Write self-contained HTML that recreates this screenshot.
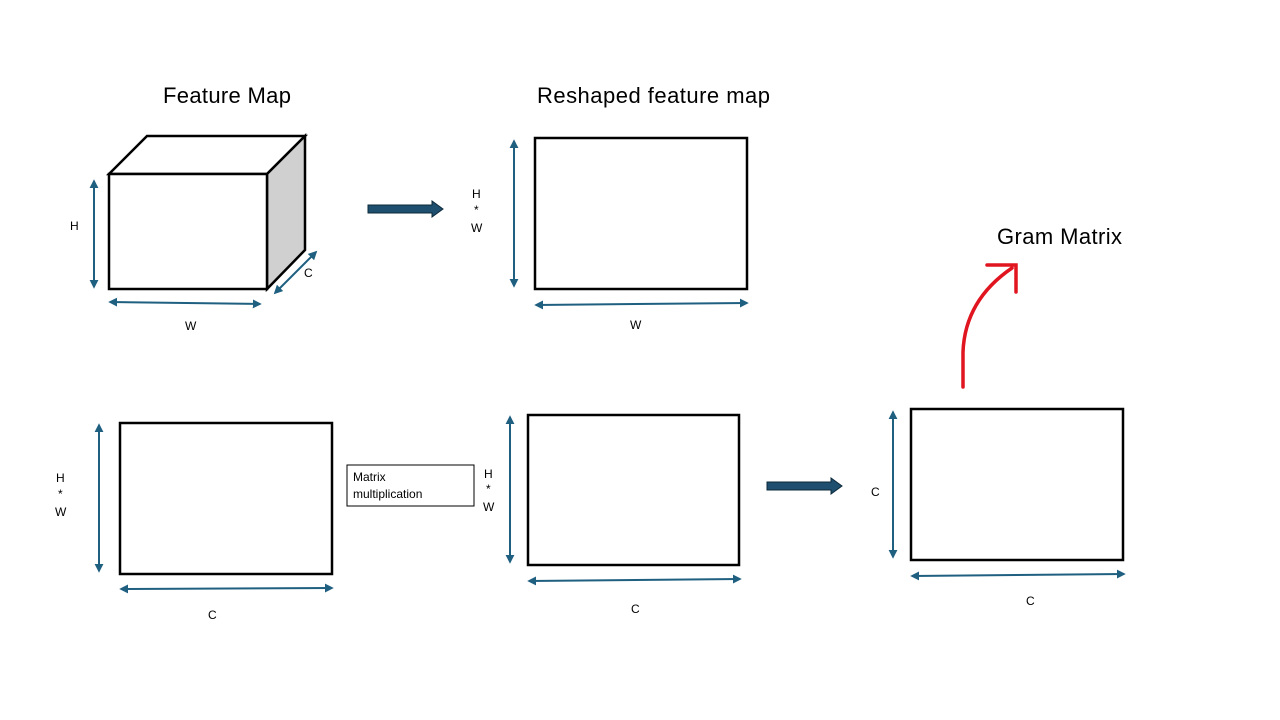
<!DOCTYPE html>
<html><head><meta charset="utf-8"><style>
html,body{margin:0;padding:0;background:#fff;}
svg{display:block;font-family:"Liberation Sans",sans-serif;}
</style></head><body>
<svg width="1280" height="720" viewBox="0 0 1280 720">
<defs>
<marker id="ah" viewBox="0 0 10 10" refX="8" refY="5" markerWidth="4.5" markerHeight="4.5" orient="auto-start-reverse"><path d="M0,0 L10,5 L0,10 z" fill="#1f5f80"/></marker>
</defs>
<g fill="#000" font-size="22" textLength="">
<text x="163" y="103" textLength="128">Feature Map</text>
<text x="537" y="103" textLength="233">Reshaped feature map</text>
<text x="997" y="244" textLength="125">Gram Matrix</text>
</g>
<g stroke="#000" stroke-width="2.5" stroke-linejoin="miter">
<polygon points="109,174 147,136 305,136 267,174" fill="#fff"/>
<polygon points="267,174 305,136 305,250 267,289" fill="#d0d0d0"/>
<rect x="109" y="174" width="158" height="115" fill="#fff"/>
</g>
<g stroke="#1f5f80" stroke-width="2" fill="none">
<line x1="94" y1="181" x2="94" y2="287" marker-start="url(#ah)" marker-end="url(#ah)"/>
<line x1="110" y1="302" x2="260" y2="304" marker-start="url(#ah)" marker-end="url(#ah)"/>
<line x1="275" y1="293" x2="316" y2="252" marker-start="url(#ah)" marker-end="url(#ah)"/>
<line x1="514" y1="141" x2="514" y2="286" marker-start="url(#ah)" marker-end="url(#ah)"/>
<line x1="536" y1="305" x2="747" y2="303" marker-start="url(#ah)" marker-end="url(#ah)"/>
<line x1="99" y1="425" x2="99" y2="571" marker-start="url(#ah)" marker-end="url(#ah)"/>
<line x1="121" y1="589" x2="332" y2="588" marker-start="url(#ah)" marker-end="url(#ah)"/>
<line x1="510" y1="417" x2="510" y2="562" marker-start="url(#ah)" marker-end="url(#ah)"/>
<line x1="529" y1="581" x2="740" y2="579" marker-start="url(#ah)" marker-end="url(#ah)"/>
<line x1="893" y1="412" x2="893" y2="557" marker-start="url(#ah)" marker-end="url(#ah)"/>
<line x1="912" y1="576" x2="1124" y2="574" marker-start="url(#ah)" marker-end="url(#ah)"/>
</g>
<g fill="#fff" stroke="#000" stroke-width="2.5">
<rect x="535" y="138" width="212" height="151"/>
<rect x="120" y="423" width="212" height="151"/>
<rect x="528" y="415" width="211" height="150"/>
<rect x="911" y="409" width="212" height="151"/>
</g>
<g fill="#1f4f6e" stroke="#0e2a3a" stroke-width="1">
<path d="M368,205 L432,205 L432,201 L443,209 L432,217 L432,213 L368,213 Z"/>
<path d="M767,482 L831,482 L831,478 L842,486 L831,494 L831,490 L767,490 Z"/>
</g>
<path d="M963,387 L963,352 Q965,300 1012,268 M987,265 L1016,265 L1016,292" fill="none" stroke="#e0151f" stroke-width="3.5" stroke-linecap="round"/>
<rect x="347" y="465" width="127" height="41" fill="#fff" stroke="#000" stroke-width="1"/>
<g font-size="12" fill="#000">
<text x="353" y="481">Matrix</text>
<text x="353" y="498">multiplication</text>
<text x="70" y="230">H</text>
<text x="185" y="330">W</text>
<text x="304" y="277">C</text>
<text x="472" y="198">H</text><text x="474" y="214">*</text><text x="471" y="232">W</text>
<text x="630" y="329">W</text>
<text x="56" y="482">H</text><text x="58" y="498">*</text><text x="55" y="516">W</text>
<text x="208" y="619">C</text>
<text x="484" y="478">H</text><text x="486" y="493">*</text><text x="483" y="511">W</text>
<text x="631" y="613">C</text>
<text x="871" y="496">C</text>
<text x="1026" y="605">C</text>
</g>
</svg>
</body></html>
